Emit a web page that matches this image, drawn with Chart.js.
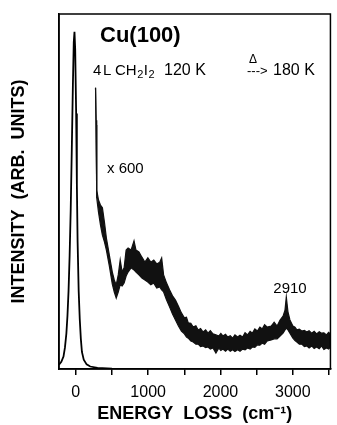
<!DOCTYPE html>
<html>
<head>
<meta charset="utf-8">
<script src="https://cdn.jsdelivr.net/npm/chart.js@4.4.1/dist/chart.umd.min.js"></script>
<style>
	html, body { margin: 0; padding: 0; background: #fff; }
</style>
</head>
<body>
<canvas id="myChart" width="337" height="425"></canvas>
<script>
// elastic peak (x1)
const elasticLoss = [-232, -200, -170, -150, -130, -115, -100, -85, -70, -55, -40, -28, -18, -8, 5, 15, 25, 40, 55, 70, 85, 110, 150, 200, 300, 500, 3520];
const elasticInt = [1.2, 2, 3.5, 6, 10, 15, 22, 32, 45, 62, 80, 92, 95, 90, 72, 52, 36, 22, 14, 8.5, 4.8, 2.6, 1.3, 0.7, 0.3, 0.1, 0];

// x600 trace, noise band given as upper / lower edge
const lossX600 = [273, 280, 286, 293, 314, 341, 368, 396, 423, 464, 505, 532, 559, 587, 614, 641, 668, 696, 723, 764, 805, 832, 873, 914, 955, 996, 1037, 1078, 1119, 1160, 1187, 1214, 1255, 1296, 1337, 1378, 1419, 1460, 1501, 1530, 1555, 1590, 1623, 1660, 1692, 1725, 1760, 1795, 1828, 1860, 1896, 1937, 1978, 2005, 2033, 2070, 2101, 2135, 2169, 2200, 2237, 2270, 2306, 2340, 2374, 2410, 2442, 2475, 2510, 2545, 2578, 2610, 2647, 2701, 2742, 2783, 2824, 2865, 2892, 2910, 2933, 2960, 3001, 3030, 3056, 3090, 3124, 3160, 3192, 3225, 3261, 3295, 3329, 3365, 3397, 3430, 3465, 3495, 3520];
const upperX600 = [79.2, 70.1, 58.9, 50.4, 47.6, 46.2, 45.4, 41.4, 36.9, 32.1, 27.3, 25.1, 23.7, 26.5, 30.7, 27.3, 28.5, 33.5, 34.1, 33.5, 36.1, 33.5, 33.0, 31.5, 30.1, 31.3, 30.1, 30.7, 29.6, 30.1, 31.3, 26.5, 24.2, 22.3, 20.6, 19.4, 17.7, 15.8, 14.4, 14.6, 13.0, 12.9, 11.8, 12.2, 11.0, 11.4, 10.4, 11.0, 10.1, 10.8, 9.9, 9.6, 9.3, 10.0, 9.3, 9.8, 9.0, 9.4, 8.7, 9.6, 9.0, 9.5, 9.0, 10.2, 9.6, 10.6, 10.1, 11.3, 10.7, 11.8, 11.3, 12.5, 11.8, 12.1, 13.2, 12.1, 13.8, 14.9, 16.6, 20.3, 16.1, 13.8, 12.1, 11.8, 11.0, 11.2, 10.7, 10.9, 10.4, 10.8, 10.1, 10.6, 9.9, 10.5, 10.1, 10.2, 9.6, 10.3, 9.9];
const lowerX600 = [79.2, 68.7, 56.6, 48.2, 44.2, 40.6, 37.7, 35.8, 33.5, 29.0, 23.9, 21.7, 20.0, 21.7, 23.7, 23.4, 24.2, 26.2, 27.3, 28.5, 27.9, 27.3, 26.5, 25.6, 25.1, 24.5, 23.7, 24.2, 22.8, 23.1, 22.3, 21.7, 19.4, 17.5, 15.5, 13.8, 12.1, 10.7, 9.9, 9.0, 8.7, 7.9, 7.6, 7.0, 7.0, 6.3, 6.5, 6.0, 6.2, 5.6, 5.9, 4.5, 5.9, 5.2, 5.6, 5.0, 5.6, 5.0, 5.4, 4.9, 5.4, 5.0, 5.6, 5.4, 5.9, 5.6, 6.2, 6.1, 6.8, 6.7, 7.3, 7.0, 7.9, 8.2, 8.5, 8.5, 9.3, 10.1, 11.0, 11.5, 11.0, 10.1, 8.7, 8.0, 7.6, 7.0, 7.0, 6.3, 6.5, 5.9, 6.5, 5.8, 6.2, 5.7, 6.5, 5.5, 5.9, 5.6, 6.2];

const tickValues = [0, 500, 1000, 1500, 2000, 2500, 3000, 3500];

const FONT = "'Liberation Sans', Arial, Helvetica, sans-serif";

function pts(xs, ys) {
	return xs.map((x, i) => ({ x: x, y: ys[i] }));
}

// box around the plot + text labels inside it
const extras = {
	id: 'extras',
	afterDraw(chart) {
		const ctx = chart.ctx;
		const a = chart.chartArea;
		ctx.save();
		ctx.strokeStyle = '#000';
		ctx.lineWidth = 1.5;
		ctx.strokeRect(a.left, a.top, a.right - a.left, a.bottom - a.top);

		ctx.fillStyle = '#000';
		ctx.textBaseline = 'alphabetic';
		ctx.textAlign = 'left';

		ctx.font = 'bold 22px ' + FONT;
		ctx.fillText('Cu(100)', 100, 42);

		ctx.font = '15px ' + FONT;
		ctx.fillText('4', 93, 75);
		ctx.fillText('L', 103, 75);
		let x = 115;
		const parts = [['CH', 0], ['2', 1], ['I', 0], ['2', 1]];
		parts.forEach(p => {
			ctx.font = p[1] ? '11px ' + FONT : '15px ' + FONT;
			ctx.fillText(p[0], x, p[1] ? 78 : 75);
			x += ctx.measureText(p[0]).width + 0.5;
		});
		ctx.font = '16px ' + FONT;
		ctx.fillText('120 K', 164, 75);
		ctx.font = '12px ' + FONT;
		ctx.fillText('Δ', 249, 63);
		ctx.font = '13px ' + FONT;
		ctx.fillText('--->', 247, 75);
		ctx.font = '16px ' + FONT;
		ctx.fillText('180 K', 273, 75);

		ctx.font = '15px ' + FONT;
		ctx.fillText('x 600', 107, 173);
		ctx.textAlign = 'center';
		ctx.fillText('2910', 290, 293);
		ctx.restore();
	},
};

const config = {
	type: 'line',
	data: {
		datasets: [
			{
				data: pts(elasticLoss, elasticInt),
				borderColor: '#000',
				borderWidth: 1.8,
				pointRadius: 0,
				fill: false,
			},
			{
				data: pts(lossX600, lowerX600),
				borderColor: '#111',
				borderWidth: 1.2,
				pointRadius: 0,
				fill: false,
			},
			{
				data: pts(lossX600, upperX600),
				borderColor: '#111',
				borderWidth: 1.2,
				pointRadius: 0,
				fill: '-1',
				backgroundColor: '#111',
			},
		],
	},
	options: {
		responsive: false,
		animation: false,
		layout: { padding: { left: 0, right: 2, top: 14, bottom: 0 } },
		plugins: { legend: { display: false }, tooltip: { enabled: false } },
		scales: {
			x: {
				type: 'linear',
				min: -232,
				max: 3520,
				afterBuildTicks: s => {
					s.ticks = tickValues.map(v => ({ value: v }));
				},
				afterFit: s => {
					s.height = 56;
				},
				grid: { drawOnChartArea: false, tickLength: 6, color: '#000', lineWidth: 1.5 },
				border: { display: true, color: '#000', width: 1.5 },
				ticks: {
					callback: v => (v % 1000 === 0 ? String(v) : ''),
					font: { family: FONT, size: 16 },
					color: '#000',
					padding: 8,
					maxRotation: 0,
					autoSkip: false,
				},
				title: {
					display: true,
					text: 'ENERGY  LOSS  (cm⁻¹)',
					font: { family: FONT, size: 18, weight: 'bold' },
					color: '#000',
					padding: { top: 0, bottom: 0 },
				},
			},
			y: {
				min: 0,
				max: 100,
				afterFit: s => {
					s.width = 59;
				},
				ticks: { display: false },
				grid: { display: false },
				border: { display: true, color: '#000', width: 1.5 },
				title: {
					display: true,
					text: 'INTENSITY  (ARB.  UNITS)',
					font: { family: FONT, size: 18, weight: 'bold' },
					color: '#000',
					padding: { top: 8, bottom: 0 },
				},
			},
		},
	},
	plugins: [extras],
};

const myChart = new Chart(document.getElementById('myChart'), config);
</script>
</body>
</html>
